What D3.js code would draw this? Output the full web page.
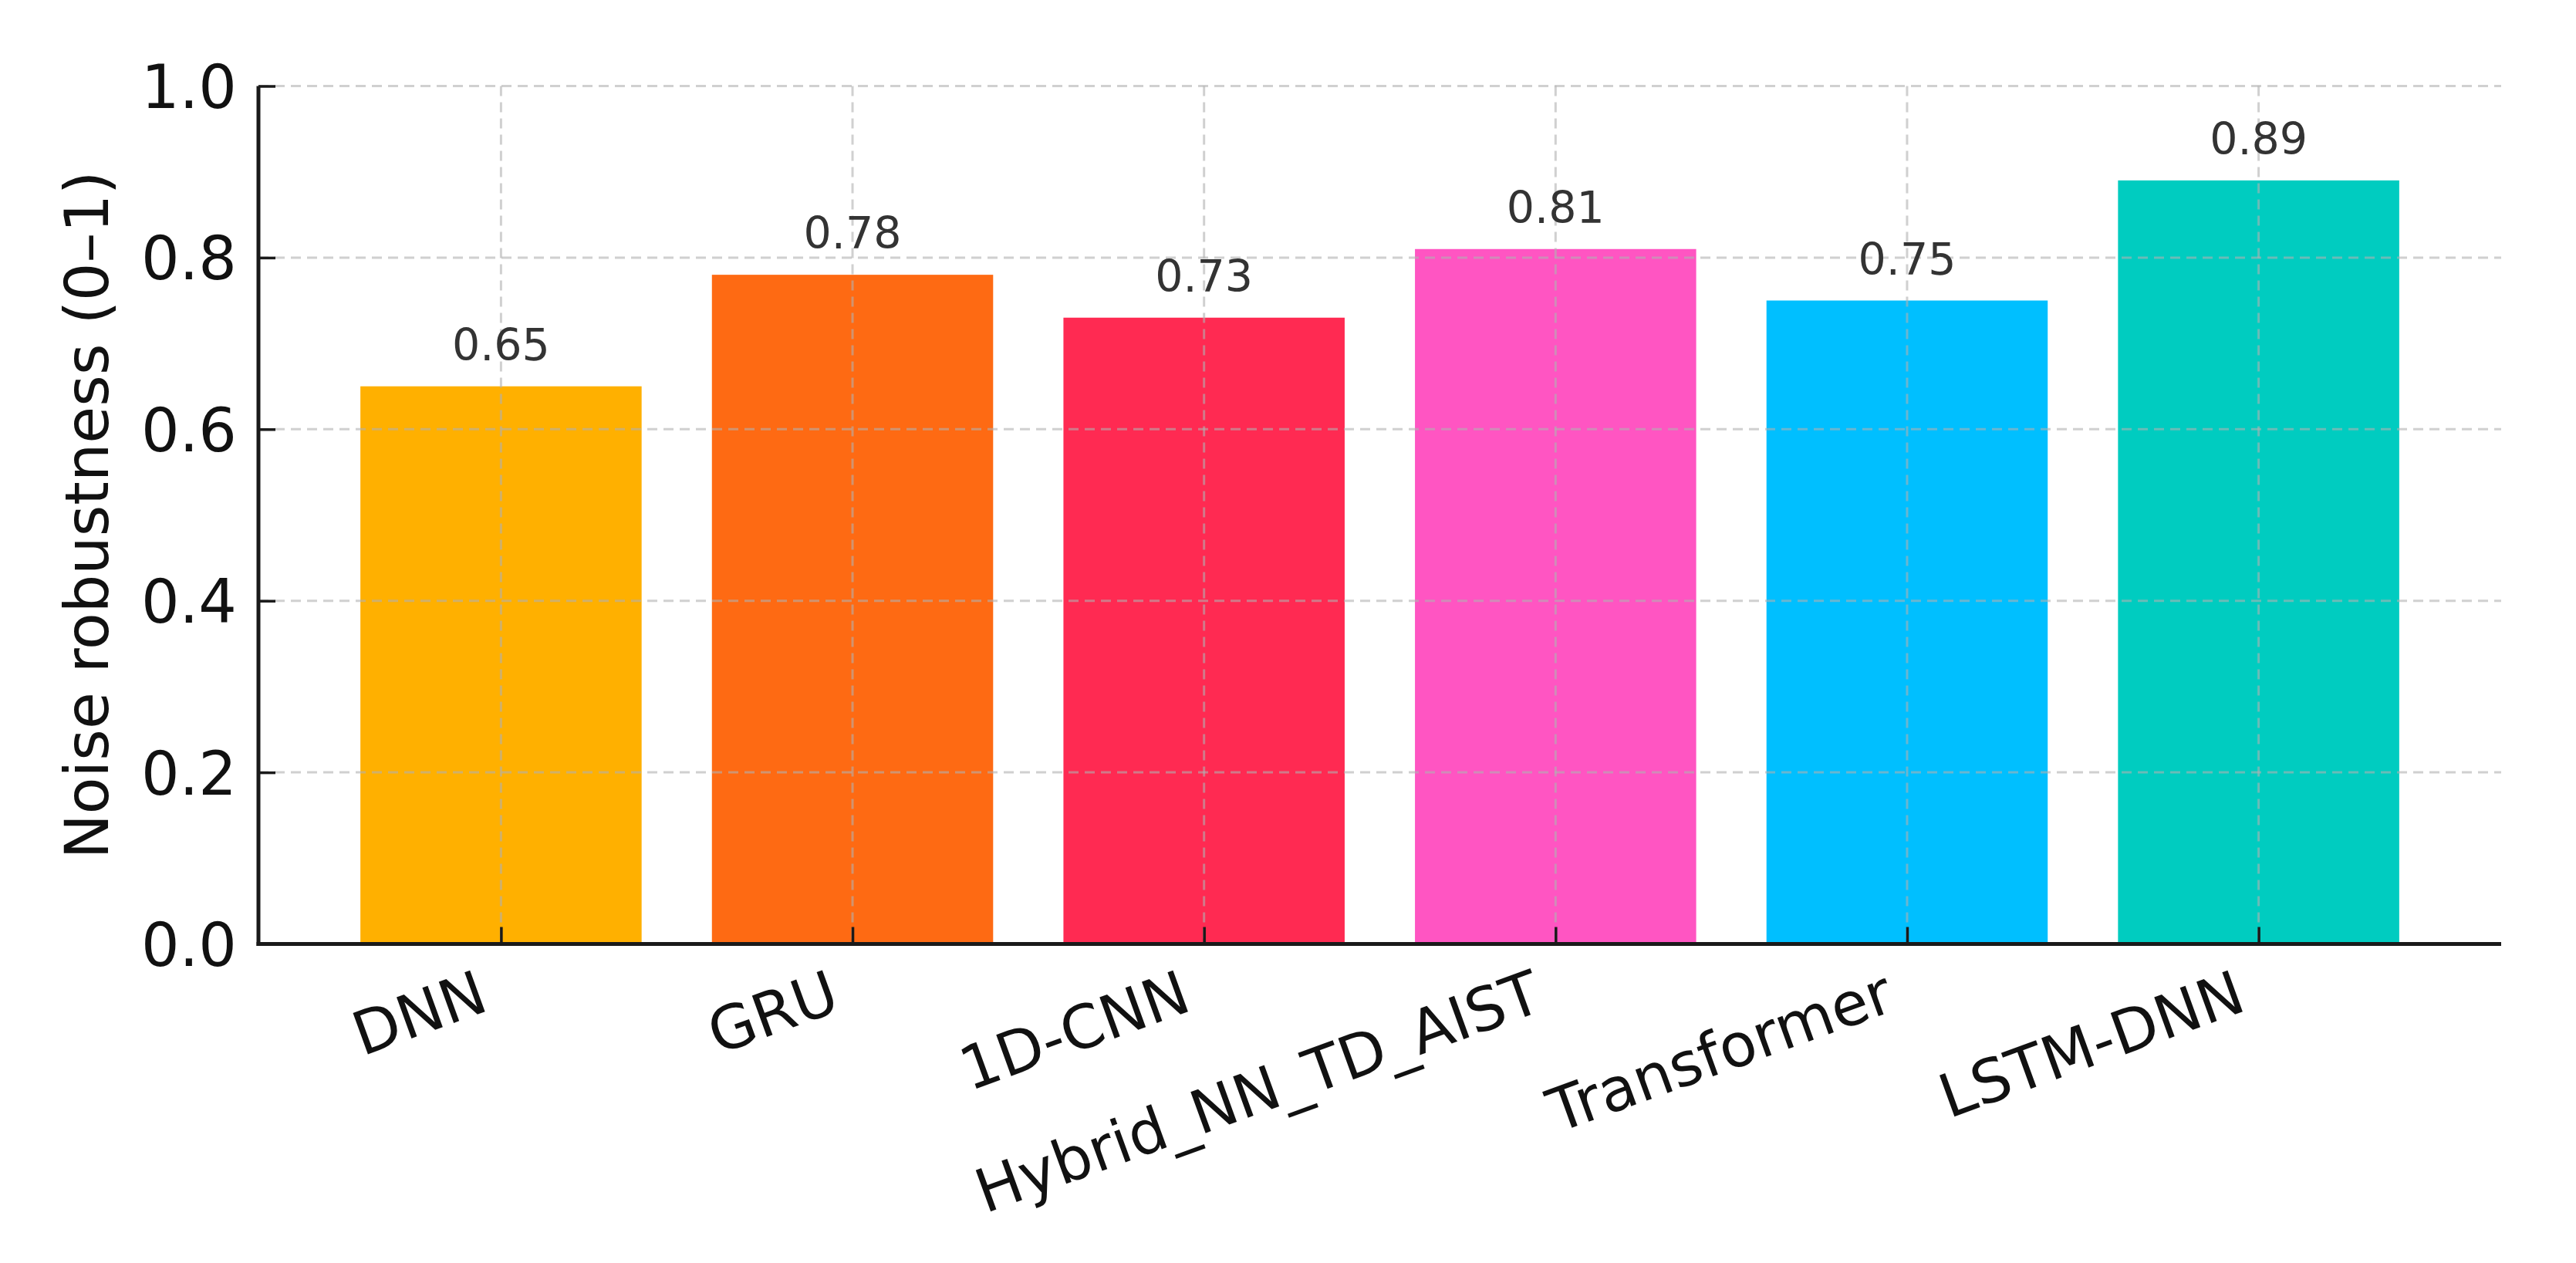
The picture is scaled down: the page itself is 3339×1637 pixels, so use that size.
<!DOCTYPE html>
<html>
<head>
<meta charset="utf-8">
<script src="https://cdn.jsdelivr.net/npm/d3@7"></script>
<style>
  html, body { margin: 0; padding: 0; background: #fff; }
  svg { display: block; }
</style>
</head>
<body>
<svg id="chart" width="3339" height="1637"></svg>
<script>
const categories = ["DNN", "GRU", "1D-CNN", "Hybrid_NN_TD_AIST", "Transformer", "LSTM-DNN"];
const values = [0.65, 0.78, 0.73, 0.81, 0.75, 0.89];
const colors = ["#FFB000", "#FE6A13", "#FF2A52", "#FF55C2", "#00BFFF", "#00CCC0"];
const yTicks = [0.0, 0.2, 0.4, 0.6, 0.8, 1.0];
const yLabel = "Noise robustness (0–1)";

(function () {
const W = 3339, H = 1637;
const pLeft = 335, pRight = 3242, pTop = 111.5, pBottom = 1223.5;
const font = "'DejaVu Sans', sans-serif";

const svg = d3.select("#chart");
svg.append("rect").attr("width", W).attr("height", H).attr("fill", "#fff");

const x = d3.scaleLinear().domain([-0.69, categories.length - 1 + 0.69]).range([pLeft, pRight]);
const y = d3.scaleLinear().domain([0, 1]).range([pBottom, pTop]);
const barW = x(0.4) - x(-0.4);

// bars
svg.append("g").selectAll("rect").data(values).join("rect")
  .attr("x", (d, i) => x(i) - barW / 2)
  .attr("y", d => y(d))
  .attr("width", barW)
  .attr("height", d => y(0) - y(d))
  .attr("fill", (d, i) => colors[i]);

// grid (drawn over bars)
const grid = svg.append("g")
  .attr("stroke", "#b0b0b0").attr("stroke-opacity", 0.6)
  .attr("stroke-width", 3).attr("stroke-dasharray", "13,8");
grid.selectAll("line.h").data(yTicks).join("line").attr("class", "h")
  .attr("x1", pLeft).attr("x2", pRight)
  .attr("y1", d => y(d)).attr("y2", d => y(d));
grid.selectAll("line.v").data(categories).join("line").attr("class", "v")
  .attr("x1", (d, i) => x(i)).attr("x2", (d, i) => x(i))
  .attr("y1", pTop).attr("y2", pBottom);

// y axis
const yAxis = d3.axisLeft(y).tickValues(yTicks).tickFormat(d3.format(".1f"))
  .tickSizeInner(-22).tickSizeOuter(0).tickPadding(28);
const gy = svg.append("g").attr("transform", `translate(${pLeft},0)`).call(yAxis);
gy.select(".domain").remove();
gy.selectAll(".tick line").attr("stroke", "#1a1a1a").attr("stroke-width", 3.5);
gy.selectAll(".tick text").attr("font-family", font).attr("font-size", 78)
  .attr("fill", "#111").attr("dy", "0.36em");

// x axis
const xAxis = d3.axisBottom(x).tickValues(d3.range(categories.length))
  .tickFormat(i => categories[i]).tickSizeInner(-22).tickSizeOuter(0);
const gx = svg.append("g").attr("transform", `translate(0,${pBottom})`).call(xAxis);
gx.select(".domain").remove();
gx.selectAll(".tick line").attr("stroke", "#1a1a1a").attr("stroke-width", 3.5);
gx.selectAll(".tick text")
  .attr("font-family", font).attr("font-size", 78).attr("fill", "#111")
  .attr("text-anchor", "end")
  .attr("x", 0).attr("y", 0).attr("dy", null)
  .attr("transform", "translate(-14,85) rotate(-20)");

// spines
svg.append("line").attr("x1", pLeft).attr("x2", pLeft).attr("y1", pTop).attr("y2", pBottom + 2.5)
  .attr("stroke", "#1a1a1a").attr("stroke-width", 5);
svg.append("line").attr("x1", pLeft - 2.5).attr("x2", pRight).attr("y1", pBottom).attr("y2", pBottom)
  .attr("stroke", "#1a1a1a").attr("stroke-width", 5);

// value labels
svg.append("g").selectAll("text").data(values).join("text")
  .attr("x", (d, i) => x(i))
  .attr("y", d => y(d) - 34)
  .attr("text-anchor", "middle")
  .attr("font-family", font).attr("font-size", 57).attr("fill", "#333")
  .text(d => d.toFixed(2));

// y label
svg.append("text")
  .attr("transform", `translate(140,${(pTop + pBottom) / 2}) rotate(-90)`)
  .attr("text-anchor", "middle")
  .attr("font-family", font).attr("font-size", 78).attr("fill", "#111")
  .text(yLabel);
})();
</script>
</body>
</html>
